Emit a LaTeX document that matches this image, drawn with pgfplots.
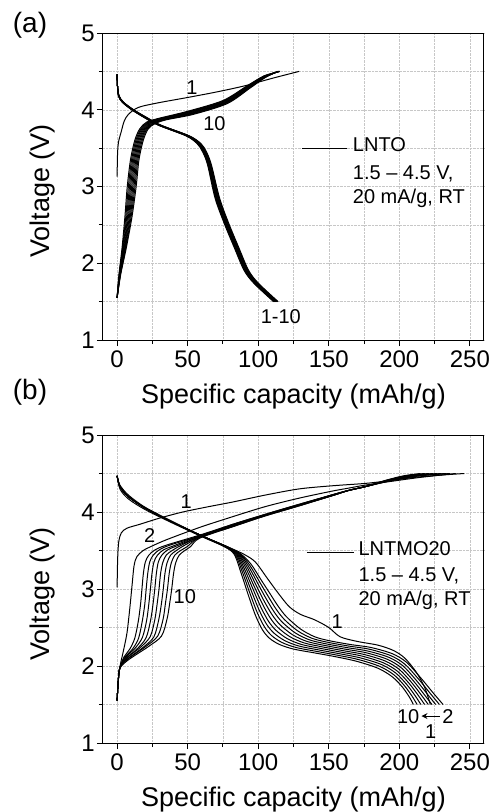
\documentclass[border=0pt]{standalone}
\usepackage{fontspec}
\setmainfont{Liberation Sans}
\usepackage{pgfplots}
\pgfplotsset{compat=1.18}
\usetikzlibrary{arrows.meta}
\tikzset{ann/.style={font=\fontsize{20}{24}\selectfont, inner sep=0pt}}
\newcommand{\tickfont}{\fontsize{24}{28}\selectfont}
\newcommand{\labfont}{\fontsize{27}{32}\selectfont}
\pgfplotsset{
  panel/.style={
    scale only axis, width=381pt,
    xmin=-10, xmax=260, ymin=1, ymax=5,
    xtick={0,50,100,150,200,250}, ytick={1,2,3,4,5},
    xticklabels={\tickfont 0,\tickfont 50,\tickfont 100,\tickfont 150,\tickfont 200,\tickfont 250},
    yticklabels={\tickfont 1,\tickfont 2,\tickfont 3,\tickfont 4,\tickfont 5},
    minor x tick num=1, minor y tick num=1,
    tick align=outside, xtick pos=left, ytick pos=left,
    major tick length=6pt, minor tick length=4pt,
    grid=both,
    major grid style={black!22, densely dotted, line width=0.5pt},
    minor grid style={black!22, densely dotted, line width=0.5pt},
    axis line style={line width=1pt},
    every tick/.style={black, line width=0.9pt},
    xticklabel style={inner sep=2pt, yshift=-3pt},
    yticklabel style={inner sep=2pt},
    xlabel style={at={(axis description cs:0.5,-0.183)}, anchor=center},
    cycle list={{black, solid, mark=none}},
    every axis plot/.append style={black, line width=1pt, smooth, tension=0.5, mark=none},
  }
}
\begin{document}
\begin{tikzpicture}
\useasboundingbox (-103pt,-472pt) rectangle (391pt,340pt);
\node[font=\fontsize{28}{32}\selectfont] at (-73pt,315pt) {(a)};
\node[font=\fontsize{28}{32}\selectfont] at (-73pt,-52pt) {(b)};
% ---------------- panel (a)
\begin{axis}[panel, height=307pt, at={(0pt,0pt)}, anchor=south west,
  xlabel={\labfont Specific capacity (mAh/g)}, ylabel={\labfont Voltage (V)},
  ylabel style={at={(axis description cs:-0.1575,0.485)}, anchor=center}]
% discharge cycles 1-10
\addplot coordinates {(0,4.46)(0.3,4.3)(0.975,4.18)(3.55,4.1)(10.33,4.0)(19.1,3.9)(29.1,3.8)(48.9,3.66)(56.65,3.56)(60.65,3.45)(64.15,3.28)(69.4,2.85)(75.9,2.52)(82.9,2.21)(89.9,1.91)(96.9,1.74)(110.9,1.5)};
\addplot coordinates {(0,4.46)(0.3,4.3)(1.025,4.18)(3.65,4.1)(10.48,4.0)(19.3,3.9)(29.3,3.8)(49.1,3.66)(56.95,3.56)(60.95,3.45)(64.45,3.28)(69.8,2.85)(76.3,2.52)(83.3,2.21)(90.3,1.91)(97.3,1.74)(111.3,1.5)};
\addplot coordinates {(0,4.46)(0.3,4.3)(1.075,4.18)(3.75,4.1)(10.63,4.0)(19.5,3.9)(29.5,3.8)(49.4,3.66)(57.25,3.56)(61.25,3.45)(64.75,3.28)(70.1,2.85)(76.6,2.52)(83.6,2.21)(90.6,1.91)(97.6,1.74)(111.6,1.5)};
\addplot coordinates {(0,4.46)(0.3,4.3)(1.125,4.18)(3.85,4.1)(10.78,4.0)(19.7,3.9)(29.7,3.8)(49.6,3.66)(57.55,3.56)(61.55,3.45)(65.05,3.28)(70.5,2.85)(77.0,2.52)(84.0,2.21)(91.0,1.91)(98.0,1.74)(112.0,1.5)};
\addplot coordinates {(0,4.46)(0.3,4.3)(1.175,4.18)(3.95,4.1)(10.93,4.0)(19.9,3.9)(29.9,3.8)(49.9,3.66)(57.85,3.56)(61.85,3.45)(65.35,3.28)(70.8,2.85)(77.3,2.52)(84.3,2.21)(91.3,1.91)(98.3,1.74)(112.3,1.5)};
\addplot coordinates {(0,4.46)(0.3,4.3)(1.225,4.18)(4.05,4.1)(11.08,4.0)(20.1,3.9)(30.1,3.8)(50.1,3.66)(58.15,3.56)(62.15,3.45)(65.65,3.28)(71.2,2.85)(77.7,2.52)(84.7,2.21)(91.7,1.91)(98.7,1.74)(112.7,1.5)};
\addplot coordinates {(0,4.46)(0.3,4.3)(1.275,4.18)(4.15,4.1)(11.23,4.0)(20.3,3.9)(30.3,3.8)(50.4,3.66)(58.45,3.56)(62.45,3.45)(65.95,3.28)(71.5,2.85)(78.0,2.52)(85.0,2.21)(92.0,1.91)(99.0,1.74)(113.0,1.5)};
\addplot coordinates {(0,4.46)(0.3,4.3)(1.325,4.18)(4.25,4.1)(11.38,4.0)(20.5,3.9)(30.5,3.8)(50.6,3.66)(58.75,3.56)(62.75,3.45)(66.25,3.28)(71.9,2.85)(78.4,2.52)(85.4,2.21)(92.4,1.91)(99.4,1.74)(113.4,1.5)};
\addplot coordinates {(0,4.46)(0.3,4.3)(1.375,4.18)(4.35,4.1)(11.53,4.0)(20.7,3.9)(30.7,3.8)(50.9,3.66)(59.05,3.56)(63.05,3.45)(66.55,3.28)(72.2,2.85)(78.7,2.52)(85.7,2.21)(92.7,1.91)(99.7,1.74)(113.7,1.5)};
\addplot coordinates {(0,4.46)(0.3,4.3)(1.425,4.18)(4.45,4.1)(11.68,4.0)(20.9,3.9)(30.9,3.8)(51.1,3.66)(59.35,3.56)(63.35,3.45)(66.85,3.28)(72.6,2.85)(79.1,2.52)(86.1,2.21)(93.1,1.91)(100.1,1.74)(114.1,1.5)};
% charge cycle 1
\addplot coordinates {(0,3.13)(0.3,3.42)(1,3.58)(3,3.72)(5,3.85)(8,3.94)(15,4.03)(29,4.09)(50,4.16)(70,4.23)(90,4.31)(110,4.41)(129,4.5)};
% charge cycles 2-10
\addplot coordinates {(0,1.55)(1.3,1.85)(3.5,2.2)(5.5,2.6)(7.2,3.0)(9.5,3.35)(12.5,3.6)(16,3.75)(21,3.84)(30,3.89)(50,3.98)(75,4.12)(92,4.31)(104,4.44)(115.5,4.5)};
\addplot coordinates {(0,1.55)(1.45,1.85)(3.88,2.2)(6.13,2.6)(7.99,3.0)(10.25,3.35)(13.25,3.6)(16.75,3.75)(21.75,3.838)(30.63,3.888)(50.5,3.975)(75.38,4.115)(92.25,4.306)(104.13,4.438)(115.3,4.5)};
\addplot coordinates {(0,1.55)(1.6,1.85)(4.25,2.2)(6.75,2.6)(8.78,3.0)(11,3.35)(14,3.6)(17.5,3.75)(22.5,3.835)(31.25,3.885)(51,3.97)(75.75,4.11)(92.5,4.303)(104.25,4.435)(115.1,4.5)};
\addplot coordinates {(0,1.55)(1.75,1.85)(4.63,2.2)(7.38,2.6)(9.56,3.0)(11.75,3.35)(14.75,3.6)(18.25,3.75)(23.25,3.833)(31.88,3.883)(51.5,3.965)(76.13,4.105)(92.75,4.299)(104.38,4.433)(114.9,4.5)};
\addplot coordinates {(0,1.55)(1.9,1.85)(5.0,2.2)(8.0,2.6)(10.35,3.0)(12.5,3.35)(15.5,3.6)(19,3.75)(24,3.83)(32.5,3.88)(52,3.96)(76.5,4.1)(93,4.295)(104.5,4.43)(114.75,4.5)};
\addplot coordinates {(0,1.55)(2.05,1.85)(5.38,2.2)(8.63,2.6)(11.14,3.0)(13.25,3.35)(16.25,3.6)(19.75,3.75)(24.75,3.828)(33.13,3.878)(52.5,3.955)(76.88,4.095)(93.25,4.291)(104.63,4.428)(114.56,4.5)};
\addplot coordinates {(0,1.55)(2.2,1.85)(5.75,2.2)(9.25,2.6)(11.93,3.0)(14,3.35)(17,3.6)(20.5,3.75)(25.5,3.825)(33.75,3.875)(53,3.95)(77.25,4.09)(93.5,4.288)(104.75,4.425)(114.4,4.5)};
\addplot coordinates {(0,1.55)(2.35,1.85)(6.13,2.2)(9.88,2.6)(12.71,3.0)(14.75,3.35)(17.75,3.6)(21.25,3.75)(26.25,3.823)(34.38,3.873)(53.5,3.945)(77.63,4.085)(93.75,4.284)(104.88,4.423)(114.2,4.5)};
\addplot coordinates {(0,1.55)(2.5,1.85)(6.5,2.2)(10.5,2.6)(13.5,3.0)(15.5,3.35)(18.5,3.6)(22,3.75)(27,3.82)(35,3.87)(54,3.94)(78,4.08)(94,4.28)(105,4.42)(114,4.5)};
% legend sample
\addplot[forget plot] coordinates {(131,3.5)(162.7,3.5)};
\node[ann, anchor=mid west] at (axis cs:167,3.49) {LNTO};
\node[ann, anchor=mid west] at (axis cs:167,3.13) {1.5 -- 4.5 V,};
\node[ann, anchor=mid west] at (axis cs:167,2.81) {20 mA/g, RT};
\node[ann] at (axis cs:53,4.29) {1};
\node[ann] at (axis cs:69,3.82) {10};
\node[ann] at (axis cs:116,1.30) {1-10};
\end{axis}
% ---------------- panel (b)
\begin{axis}[panel, height=308pt, at={(0pt,-403pt)}, anchor=south west,
  xlabel={\labfont Specific capacity (mAh/g)}, ylabel={\labfont Voltage (V)},
  ylabel style={at={(axis description cs:-0.1575,0.484)}, anchor=center}]
% discharge cycle 1
\addplot coordinates {(0,4.47)(2,4.35)(8,4.22)(20,4.06)(40,3.87)(60,3.69)(78,3.55)(90,3.45)(98,3.35)(106,3.15)(114,2.95)(122,2.77)(130,2.67)(140,2.6)(150,2.5)(158,2.38)(170,2.32)(185,2.27)(196,2.2)(204,2.1)(212,1.92)(218,1.72)(222,1.5)};
% discharge cycles 2-10
\addplot coordinates {(0,4.47)(2,4.33)(8,4.2)(20,4.05)(40,3.86)(60,3.69)(78,3.55)(88,3.45)(95,3.32)(102,3.12)(108,2.95)(114,2.78)(120,2.64)(130,2.48)(140,2.38)(150,2.33)(165,2.28)(180,2.24)(195,2.16)(205,2.05)(215,1.85)(224,1.65)(231,1.5)};
\addplot coordinates {(0,4.47)(2,4.33)(8,4.2)(20,4.05)(40,3.86)(60,3.69)(77.75,3.55)(87.4,3.45)(94.1,3.305)(100.9,3.095)(106.75,2.914)(112.6,2.741)(118.5,2.605)(128.1,2.455)(138.1,2.36)(148.75,2.31)(163.75,2.26)(178.75,2.218)(193.75,2.136)(203.75,2.026)(213.4,1.835)(221.9,1.644)(228.4,1.5)};
\addplot coordinates {(0,4.47)(2,4.33)(8,4.2)(20,4.05)(40,3.86)(60,3.69)(77.5,3.55)(86.8,3.45)(93.25,3.29)(99.75,3.07)(105.5,2.878)(111.25,2.703)(117,2.57)(126.25,2.43)(136.25,2.34)(147.5,2.29)(162.5,2.24)(177.5,2.195)(192.5,2.113)(202.5,2.003)(211.75,1.82)(219.75,1.638)(225.75,1.5)};
\addplot coordinates {(0,4.47)(2,4.33)(8,4.2)(20,4.05)(40,3.86)(60,3.69)(77.25,3.55)(86.1,3.45)(92.4,3.275)(98.6,3.045)(104.25,2.841)(109.9,2.664)(115.5,2.535)(124.4,2.405)(134.4,2.32)(146.25,2.27)(161.25,2.22)(176.25,2.173)(191.25,2.089)(201.25,1.979)(210.1,1.805)(217.6,1.631)(223.1,1.5)};
\addplot coordinates {(0,4.47)(2,4.33)(8,4.2)(20,4.05)(40,3.86)(60,3.69)(77,3.55)(85.5,3.45)(91.5,3.26)(97.5,3.02)(103,2.805)(108.5,2.625)(114,2.5)(122.5,2.38)(132.5,2.30)(145,2.25)(160,2.20)(175,2.15)(190,2.065)(200,1.955)(208.5,1.79)(215.5,1.625)(220.5,1.5)};
\addplot coordinates {(0,4.47)(2,4.33)(8,4.2)(20,4.05)(40,3.86)(60,3.69)(76.75,3.55)(84.9,3.45)(90.6,3.245)(96.4,2.995)(101.75,2.769)(107.1,2.586)(112.5,2.465)(120.6,2.355)(130.6,2.28)(143.75,2.23)(158.75,2.18)(173.75,2.128)(188.75,2.041)(198.75,1.931)(206.9,1.775)(213.4,1.619)(217.9,1.5)};
\addplot coordinates {(0,4.47)(2,4.33)(8,4.2)(20,4.05)(40,3.86)(60,3.69)(76.5,3.55)(84.3,3.45)(89.75,3.23)(95.25,2.97)(100.5,2.733)(105.75,2.548)(111,2.43)(118.75,2.33)(128.75,2.26)(142.5,2.21)(157.5,2.16)(172.5,2.105)(187.5,2.018)(197.5,1.908)(205.25,1.76)(211.25,1.613)(215.25,1.5)};
\addplot coordinates {(0,4.47)(2,4.33)(8,4.2)(20,4.05)(40,3.86)(60,3.69)(76.25,3.55)(83.6,3.45)(88.9,3.215)(94.1,2.945)(99.25,2.696)(104.4,2.509)(109.5,2.395)(116.9,2.305)(126.9,2.24)(141.25,2.19)(156.25,2.14)(171.25,2.083)(186.25,1.994)(196.25,1.884)(203.6,1.745)(209.1,1.606)(212.6,1.5)};
\addplot coordinates {(0,4.47)(2,4.3)(8,4.17)(20,4.03)(40,3.85)(60,3.68)(76,3.55)(83,3.45)(88,3.2)(93,2.92)(98,2.66)(103,2.47)(108,2.36)(115,2.28)(125,2.22)(140,2.17)(155,2.12)(170,2.06)(185,1.97)(195,1.86)(202,1.73)(207,1.6)(210,1.5)};
% charge cycle 1
\addplot coordinates {(0,3.02)(0.4,3.4)(1.2,3.62)(3,3.73)(7,3.79)(16,3.84)(30,3.92)(46.5,4.0)(65,4.07)(82,4.13)(105,4.22)(129,4.3)(152,4.34)(175,4.37)(190,4.4)(211,4.45)(230,4.48)(246,4.5)};
% charge cycle 2
\addplot coordinates {(0,1.55)(0.8,1.8)(2,1.99)(4.5,2.2)(7,2.43)(9,2.75)(10.5,3.03)(12,3.3)(14,3.42)(18.5,3.5)(25,3.56)(35,3.64)(58.5,3.8)(82,3.94)(105,4.07)(129,4.18)(152,4.27)(164,4.31)(176,4.35)(195,4.4)(215,4.45)(240,4.5)};
% charge cycles 3-10
\addplot coordinates {(0,1.55)(0.8,1.8)(2,1.98)(5,2.12)(9,2.22)(12.5,2.36)(15,2.58)(16.6,2.8)(17.6,3.0)(18.6,3.2)(20,3.35)(22.5,3.44)(27,3.51)(35,3.57)(58.5,3.7)(82,3.84)(105,3.97)(129,4.1)(152,4.22)(164,4.28)(176,4.33)(195,4.41)(215,4.47)(236,4.5)};
\addplot coordinates {(0,1.55)(0.8,1.8)(2,1.98)(5.4,2.11)(10.9,2.22)(15.2,2.36)(17.9,2.59)(19.6,2.8)(20.6,3.0)(21.7,3.2)(23.1,3.35)(25.6,3.44)(30,3.51)(37.4,3.57)(58.5,3.69)(82,3.84)(105,3.97)(129,4.1)(152,4.22)(164,4.28)(176,4.33)(194.3,4.41)(213.3,4.47)(233,4.5)};
\addplot coordinates {(0,1.55)(0.8,1.8)(2,1.98)(5.9,2.11)(12.7,2.23)(17.9,2.37)(20.9,2.59)(22.5,2.81)(23.6,3.0)(24.7,3.2)(26.1,3.35)(28.6,3.44)(33,3.51)(39.9,3.56)(58.5,3.69)(82,3.83)(105,3.96)(129,4.09)(152,4.22)(164,4.28)(176,4.33)(193.6,4.41)(211.6,4.47)(230,4.5)};
\addplot coordinates {(0,1.55)(0.8,1.8)(2,1.98)(6.3,2.10)(14.6,2.23)(20.6,2.37)(23.8,2.60)(25.5,2.81)(26.7,3.0)(27.8,3.2)(29.2,3.35)(31.7,3.44)(36,3.51)(42.3,3.56)(58.5,3.68)(82,3.83)(105,3.96)(129,4.09)(152,4.22)(164,4.28)(176,4.33)(192.9,4.41)(209.9,4.47)(227,4.5)};
\addplot coordinates {(0,1.55)(0.8,1.8)(2,1.98)(6.7,2.10)(16.4,2.24)(23.4,2.38)(26.7,2.60)(28.4,2.81)(29.7,3.0)(30.8,3.2)(32.3,3.34)(34.8,3.44)(39,3.50)(44.7,3.56)(58.5,3.68)(82,3.82)(105,3.96)(129,4.09)(152,4.21)(164,4.28)(176,4.33)(192.1,4.41)(208.1,4.47)(224,4.5)};
\addplot coordinates {(0,1.55)(0.8,1.8)(2,1.98)(7.1,2.09)(18.3,2.24)(26.1,2.38)(29.6,2.61)(31.4,2.81)(32.7,3.0)(33.9,3.2)(35.4,3.34)(37.9,3.44)(42,3.50)(47.1,3.56)(58.5,3.67)(82,3.82)(105,3.96)(129,4.09)(152,4.21)(164,4.28)(176,4.33)(191.4,4.41)(206.4,4.47)(221,4.5)};
\addplot coordinates {(0,1.55)(0.8,1.8)(2,1.98)(7.6,2.09)(20.1,2.25)(28.8,2.39)(32.6,2.61)(34.3,2.82)(35.7,3.0)(36.9,3.2)(38.4,3.34)(40.9,3.44)(45,3.50)(49.6,3.55)(58.5,3.67)(82,3.81)(105,3.95)(129,4.08)(152,4.21)(164,4.28)(176,4.33)(190.7,4.41)(204.7,4.47)(218,4.5)};
\addplot coordinates {(0,1.55)(0.8,1.8)(2,1.97)(8,2.08)(22,2.25)(31.5,2.39)(35.5,2.62)(37.3,2.82)(38.7,3.0)(40,3.2)(41.5,3.34)(44,3.44)(48,3.5)(52,3.55)(58.5,3.66)(82,3.81)(105,3.95)(129,4.08)(152,4.21)(164,4.28)(176,4.33)(190,4.41)(203,4.47)(215,4.5)};
% legend sample and arrow
\addplot[forget plot] coordinates {(134.5,3.48)(167.6,3.48)};
\addplot[forget plot, -{Stealth[length=6pt,width=6pt]}] coordinates {(228.6,1.35)(215.7,1.35)};
\node[ann, anchor=mid west] at (axis cs:171,3.47) {LNTMO20};
\node[ann, anchor=mid west] at (axis cs:171,3.13) {1.5 -- 4.5 V,};
\node[ann, anchor=mid west] at (axis cs:171,2.82) {20 mA/g, RT};
\node[ann] at (axis cs:49,4.13) {1};
\node[ann] at (axis cs:23,3.70) {2};
\node[ann] at (axis cs:48,2.9) {10};
\node[ann] at (axis cs:156,2.58) {1};
\node[ann] at (axis cs:206.3,1.34) {10};
\node[ann] at (axis cs:234.5,1.34) {2};
\node[ann] at (axis cs:222.3,1.15) {1};
\end{axis}
\end{tikzpicture}
\end{document}
